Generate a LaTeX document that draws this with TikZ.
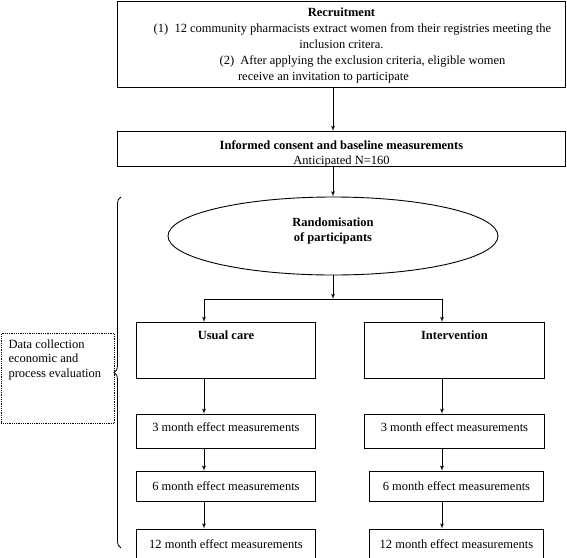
\documentclass[tikz,border=0pt]{standalone}
\usepackage{fontspec}
\setmainfont{Liberation Serif}
\usetikzlibrary{shapes.geometric, arrows, positioning, calc, decorations.pathreplacing}

\begin{document}
\begin{tikzpicture}[
    x=1pt, y=1pt,
    font=\fontsize{12.5}{14.5}\selectfont,
    box/.style={rectangle, draw, line width=0.9pt, align=center},
    topbox/.style={rectangle, draw, line width=0.9pt, inner ysep=6pt, text height=11pt},
    measure/.style={rectangle, draw, line width=0.9pt, minimum height=31pt},
    arrow/.style={-latex', line width=0.8pt}
]
    \useasboundingbox (0,0) rectangle (567,-557);

    % recruitment and consent
    \node[box, minimum width=448pt, minimum height=86pt, anchor=north west] (recruit) at (117,-1) {};
    \node[align=center, below=3pt of recruit.north, font=\fontsize{12.5}{16}\selectfont] (recruittext) {\textbf{Recruitment}\\
        \hspace*{22pt}(1)\ \ 12 community pharmacists extract women from their registries meeting the\\
        inclusion critera.\hspace*{32pt}\\
        \hspace*{42pt}(2)\ \ After applying the exclusion criteria, eligible women\\
        receive an invitation to participate\hspace*{36pt}};
    \node[box, minimum width=448pt, minimum height=35pt, anchor=north west] (consent) at (117,-131) {};
    \node[align=center, inner sep=0pt] (consenttext) at ($(consent.center)+(0,-5)$)
        {\textbf{Informed consent and baseline measurements}\\Anticipated N=160};

    % randomisation
    \node[ellipse, draw, line width=0.9pt, minimum width=330pt, minimum height=78pt, align=center] (rand) at (333,-236)
        {\textbf{Randomisation}\\\textbf{of participants}\\[-2pt]};
    \coordinate (splitL) at (204,-299);
    \coordinate (splitR) at (442,-299);

    % usual care arm
    \node[topbox, minimum width=179pt, text depth=33pt, anchor=north west] (usual) at (136,-322) {\textbf{Usual care}};
    \node[topbox, minimum width=179pt, text depth=11pt, below=35pt of usual] (m3l) {3 month effect measurements};
    \node[measure, minimum width=179pt, minimum height=30pt, below=22pt of m3l] (m6l) {6 month effect measurements};
    \node[measure, minimum width=179pt, below=27pt of m6l] (m12l) {12 month effect measurements};

    % intervention arm
    \node[topbox, minimum width=180pt, text depth=33pt, anchor=north west] (interv) at (364,-322) {\textbf{Intervention}};
    \node[topbox, minimum width=180pt, text depth=11pt, below=35pt of interv] (m3r) {3 month effect measurements};
    \node[measure, minimum width=174pt, minimum height=30pt, below=22pt of m3r, xshift=2pt] (m6r) {6 month effect measurements};
    \node[measure, minimum width=174pt, below=27pt of m6r] (m12r) {12 month effect measurements};

    % data collection
    \coordinate (braceB) at (121,-548);
    \coordinate (braceT) at (121,-197);
    \draw[decorate, decoration={brace, amplitude=7pt}, line width=0.8pt] (braceB) -- (braceT);
    \node[draw, densely dotted, line width=0.8pt, minimum width=113pt, minimum height=90pt, anchor=north west] (datacoll) at (1,-333) {};
    \node[align=left, anchor=north west] (datatext) at (5,-336) {Data collection\\economic and\\process evaluation};

    \draw[arrow] (recruit.south -| rand) -- (consent.north -| rand);
    \draw[arrow] (consent.south -| rand) -- (rand.north);
    \draw[arrow] (rand.south) -- (rand.south |- splitL);
    \draw[line width=0.8pt] (splitL) -- (splitR);
    \draw[arrow] (splitL) -- (splitL |- usual.north);
    \draw[arrow] (splitR) -- (splitR |- interv.north);
    \draw[arrow] (usual.south -| splitL) -- (m3l.north -| splitL);
    \draw[arrow] (m3l.south -| splitL) -- (m6l.north -| splitL);
    \draw[arrow] (m6l.south -| splitL) -- (m12l.north -| splitL);
    \draw[arrow] (interv.south -| splitR) -- (m3r.north -| splitR);
    \draw[arrow] (m3r.south -| splitR) -- (m6r.north -| splitR);
    \draw[arrow] (m6r.south -| splitR) -- (m12r.north -| splitR);
\end{tikzpicture}
\end{document}
